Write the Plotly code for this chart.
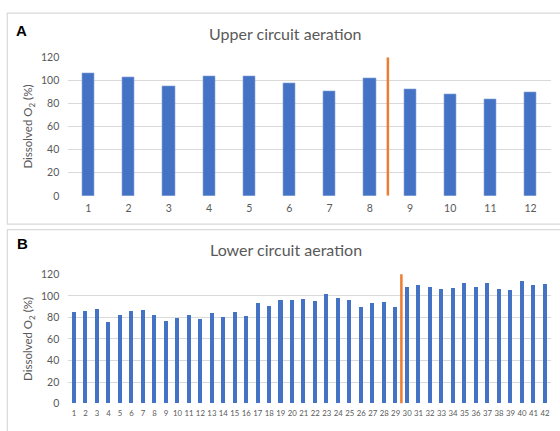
import plotly.graph_objects as go

W, H = 560, 431

# ---------------- data ----------------
upper_categories = list(range(1, 13))
upper_values = [106.0, 102.6, 94.5, 103.7, 103.7, 97.6, 90.3, 101.8, 92.2, 88.0, 83.8, 90.0]
upper_cutoff = 8.45

lower_categories = list(range(1, 43))
lower_values = [84.8, 85.4, 87.8, 75.8, 82.4, 85.4, 86.9, 82.4, 76.7, 79.2,
                82.4, 78.2, 83.6, 80.0, 84.8, 81.2, 92.7, 90.2, 95.7, 95.7,
                97.2, 94.8, 101.7, 98.1, 95.7, 89.0, 92.7, 93.9, 89.0, 108.3,
                109.5, 108.3, 105.9, 107.1, 111.6, 108.3, 111.6, 105.9, 104.7, 113.7,
                109.5, 110.4]
lower_cutoff = 29.5

y_ticks = [0, 20, 40, 60, 80, 100, 120]
upper_title = "Upper circuit aeration"
lower_title = "Lower circuit aeration"
y_title = "Dissolved O<sub>2</sub> (%)"

# ---------------- style ----------------
BAR = "#4472C4"
ORANGE = "#ED7D31"
GRID = "#D9D9D9"
TXT = "#595959"
FONT = "Lato"

def py(p):
    return 1 - p / H

def px(p):
    return p / W

fig = go.Figure()
fig.add_trace(go.Bar(x=upper_categories, y=upper_values, width=0.3,
                     marker=dict(color=BAR, line=dict(color="#8FAADC", width=0.6)),
                     xaxis="x", yaxis="y", showlegend=False))
fig.add_trace(go.Bar(x=lower_categories, y=lower_values, width=0.35,
                     marker=dict(color=BAR, line=dict(width=0)),
                     xaxis="x2", yaxis="y2", showlegend=False))

xdom = [px(68.3), px(550.7)]
axis_common = dict(showgrid=False, zeroline=False, showline=False, ticks="",
                   fixedrange=True, tickangle=0)
yaxis_common = dict(range=[0, 120], tickvals=y_ticks, showgrid=True, gridcolor=GRID,
                    gridwidth=1, zeroline=False, showline=False, ticks="",
                    tickfont=dict(family=FONT, size=10.5, color=TXT),
                    ticklabelstandoff=8,
                    title=dict(text=y_title, font=dict(family=FONT, size=11.5, color=TXT),
                               standoff=5))

fig.update_layout(
    width=W, height=H, margin=dict(l=0, r=0, t=0, b=0),
    paper_bgcolor="white", plot_bgcolor="white",
    bargap=0,
    xaxis=dict(domain=xdom, range=[0.5, 12.5], tickvals=upper_categories,
               ticktext=[str(c) for c in upper_categories],
               tickfont=dict(family=FONT, size=10.5, color=TXT),
               ticklabelstandoff=5, anchor="y", **axis_common),
    yaxis=dict(domain=[py(195.3), py(52.7)], anchor="x", **yaxis_common),
    xaxis2=dict(domain=xdom, range=[0.5, 42.5], tickvals=lower_categories,
                ticktext=[str(c) for c in lower_categories],
                tickfont=dict(family=FONT, size=7.8, color=TXT),
                ticklabelstandoff=4, anchor="y2", **axis_common),
    yaxis2=dict(domain=[py(409), py(276)], anchor="x2", **yaxis_common),
)

# panel frames
fig.add_shape(type="rect", xref="paper", yref="paper",
              x0=px(7.3), x1=1.05, y0=py(224.3), y1=py(7.3),
              line=dict(color=GRID, width=1.2), layer="below")
fig.add_shape(type="rect", xref="paper", yref="paper",
              x0=px(7.3), x1=1.05, y0=-0.05, y1=py(230),
              line=dict(color=GRID, width=1.2), layer="below")

# cutoff lines
fig.add_shape(type="line", xref="x", yref="y", x0=upper_cutoff, x1=upper_cutoff,
              y0=0, y1=120, line=dict(color=ORANGE, width=2.5))
fig.add_shape(type="line", xref="x2", yref="y2", x0=lower_cutoff, x1=lower_cutoff,
              y0=0, y1=124, line=dict(color=ORANGE, width=2.5))

# titles
fig.add_annotation(text=upper_title, xref="paper", yref="paper", x=px(285.5), y=py(28.5),
                   showarrow=False, xanchor="center", yanchor="middle",
                   font=dict(family=FONT, size=16, color=TXT))
fig.add_annotation(text=lower_title, xref="paper", yref="paper", x=px(285.5), y=py(250),
                   showarrow=False, xanchor="center", yanchor="middle",
                   font=dict(family=FONT, size=16, color=TXT))

# panel letters
fig.add_annotation(text="<b>A</b>", xref="paper", yref="paper", x=px(14), y=py(25),
                   showarrow=False, xanchor="left", yanchor="middle",
                   font=dict(family="Liberation Sans", size=15, color="black"))
fig.add_annotation(text="<b>B</b>", xref="paper", yref="paper", x=px(15), y=py(244),
                   showarrow=False, xanchor="left", yanchor="middle",
                   font=dict(family="Liberation Sans", size=15, color="black"))

fig.write_html("out.html")
